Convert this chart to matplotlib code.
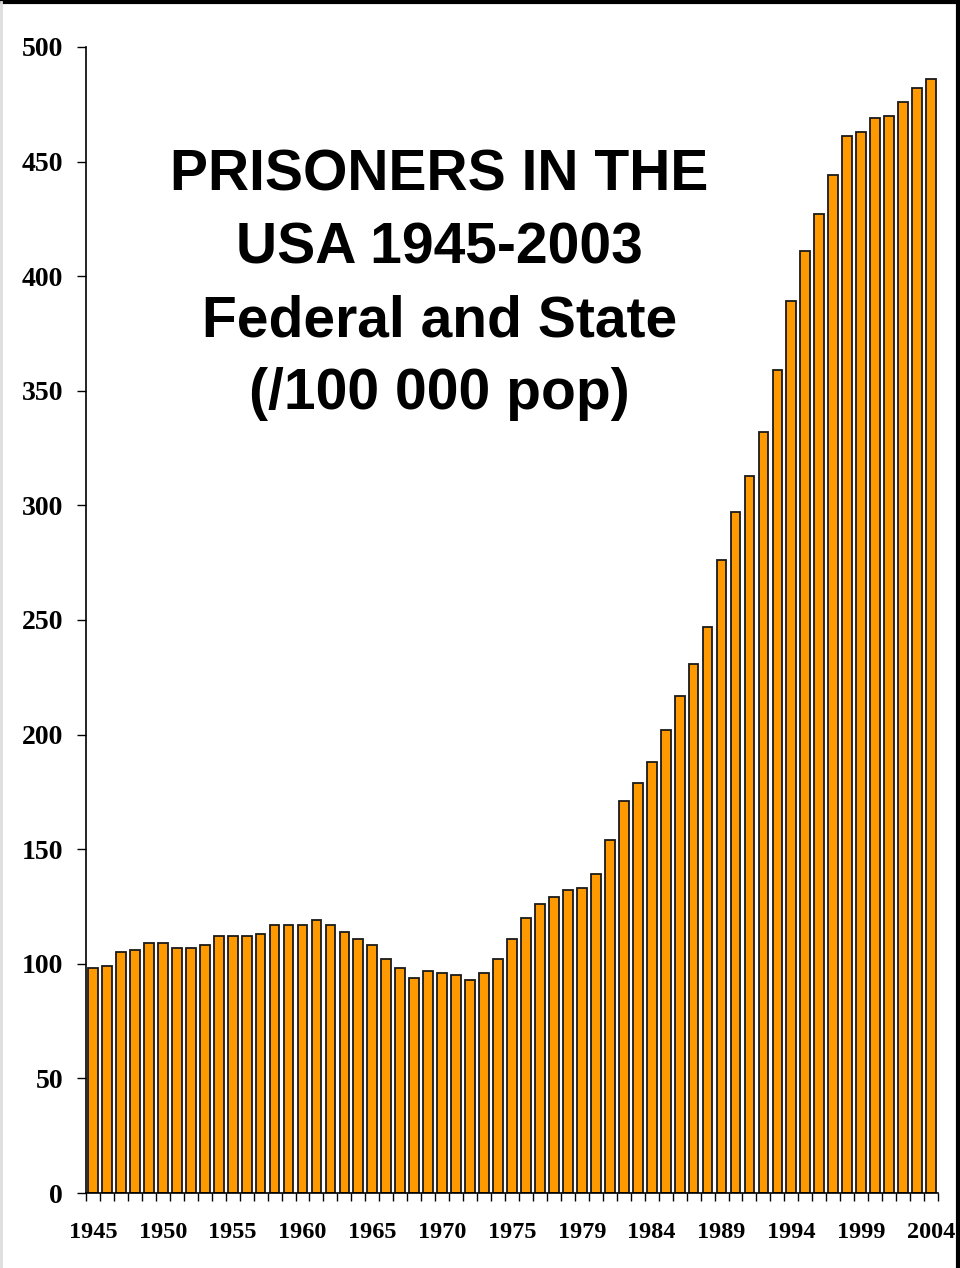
import matplotlib.pyplot as plt
from matplotlib.lines import Line2D

# Prison population per 100 000 residents, federal and state.
# 1977 appears twice (custody count and jurisdiction count).
YEARS = list(range(1945, 1978)) + [1977] + list(range(1978, 2005))
RATES = [
    98, 99, 105, 106, 109, 109, 107, 107, 108, 112,
    112, 112, 113, 117, 117, 117, 119, 117, 114, 111,
    108, 102, 98, 94, 97, 96, 95, 93, 96, 102,
    111, 120, 126, 129, 132, 133, 139, 154, 171, 179,
    188, 202, 217, 231, 247, 276, 297, 313, 332, 359,
    389, 411, 427, 444, 461, 463, 469, 470, 476, 482,
    486,
]
Y_TICKS = [0, 50, 100, 150, 200, 250, 300, 350, 400, 450, 500]
TITLE = "PRISONERS IN THE\nUSA 1945-2003\nFederal and State\n(/100 000 pop)"

BAR_COLOR = "#FF9900"
SERIF = ["Liberation Serif", "DejaVu Serif"]
SANS = ["Liberation Sans", "DejaVu Sans"]

fig = plt.figure(figsize=(9.6, 12.68), dpi=100)
ax = fig.add_axes([0.0896, 0.0591, 0.8875, 0.9039])

x = list(range(len(RATES)))
ax.bar(x, RATES, width=0.7, color=BAR_COLOR, edgecolor="#1a1a1a", linewidth=1.3)

ax.set_xlim(-0.5, len(RATES) - 0.5)
ax.set_ylim(0, 500)

# year labels every fifth category, tick marks between the categories
label_pos = x[::5]
ax.set_xticks(label_pos)
ax.set_xticklabels([str(YEARS[i]) for i in label_pos], family=SERIF,
                   fontweight="bold", fontsize=17.5)
ax.tick_params(axis="x", which="major", length=0, pad=21)
ax.set_xticks([i - 0.5 for i in range(len(RATES) + 1)], minor=True)
ax.tick_params(axis="x", which="minor", length=6, width=1.0, direction="out")

ax.set_yticks(Y_TICKS)
ax.set_yticklabels([str(v) for v in Y_TICKS], family=SERIF,
                   fontweight="bold", fontsize=20)
ax.tick_params(axis="y", length=6.5, width=1.0, direction="out", pad=10)

for side in ("top", "right"):
    ax.spines[side].set_visible(False)
for side in ("left", "bottom"):
    ax.spines[side].set_linewidth(1.2)

ax.text(0.458, 0.883, TITLE, transform=fig.transFigure, ha="center", va="top",
        family=SANS, fontweight="bold", fontsize=41, linespacing=1.45)

# outer frame: black top and right edges, faint left edge
fig.add_artist(Line2D([0, 0.998], [0.9985, 0.9985], transform=fig.transFigure,
                      color="black", linewidth=3))
fig.add_artist(Line2D([0.998, 0.998], [0, 0.9985], transform=fig.transFigure,
                      color="black", linewidth=3))
fig.add_artist(Line2D([0.001, 0.001], [0, 0.9985], transform=fig.transFigure,
                      color="#dddddd", linewidth=2))

fig.savefig("out.png", dpi=100)
